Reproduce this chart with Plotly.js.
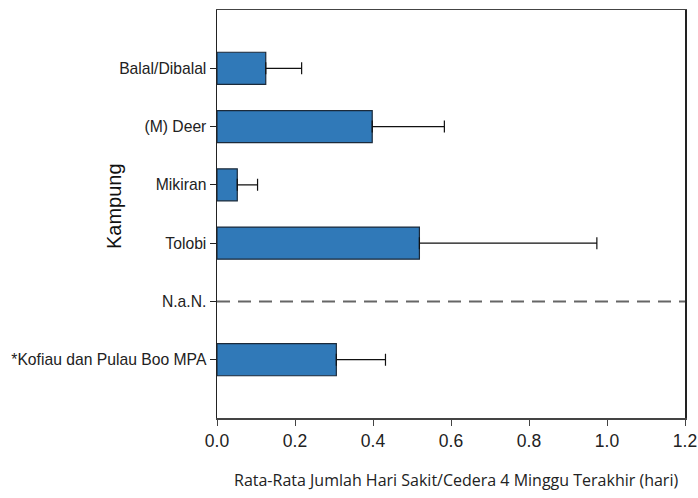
<!DOCTYPE html>
<html>
<head>
<meta charset="utf-8">
<script src="https://cdn.plot.ly/plotly-3.0.1.min.js"></script>
<style>html,body{margin:0;padding:0;background:#fff;}#chart{width:698px;height:498px;}</style>
</head>
<body>
<div id="chart"></div>
<script>
// Data
const categories = ["Balal/Dibalal", "(M) Deer", "Mikiran", "Tolobi", "N.a.N.", "*Kofiau dan Pulau Boo MPA"];
const barCategories = ["Balal/Dibalal", "(M) Deer", "Mikiran", "Tolobi", "*Kofiau dan Pulau Boo MPA"];
const meanDays = [0.125, 0.398, 0.052, 0.519, 0.306];
const errorPlus = [0.092, 0.185, 0.052, 0.455, 0.126];
const errorMinus = [0, 0, 0, 0, 0];
const nanCategory = "N.a.N.";
const nanLineX = [0, 1.2];
const xTickVals = [0, 0.2, 0.4, 0.6, 0.8, 1.0, 1.2];
const xTickText = ["0.0", "0.2", "0.4", "0.6", "0.8", "1.0", "1.2"];
const xTitle = "Rata-Rata Jumlah Hari Sakit/Cedera 4 Minggu Terakhir (hari)";
const yTitle = "Kampung";

const bars = {
  type: "bar",
  orientation: "h",
  y: barCategories,
  x: meanDays,
  marker: {color: "#3079b8", line: {color: "#1b2a3a", width: 1.2}},
  error_x: {type: "data", symmetric: false, array: errorPlus, arrayminus: errorMinus,
            color: "#111", thickness: 1.2, width: 6},
  hoverinfo: "x+y",
  showlegend: false
};
const nanLine = {
  type: "scatter",
  mode: "lines",
  x: nanLineX,
  y: [nanCategory, nanCategory],
  line: {color: "#666", width: 2, dash: "13px,8px"},
  hoverinfo: "skip",
  showlegend: false,
  cliponaxis: false
};

const layout = {
  width: 698, height: 498,
  margin: {l: 217, r: 13, t: 10, b: 80},
  paper_bgcolor: "#fff", plot_bgcolor: "#fff",
  bargap: 0.45,
  font: {family: "Liberation Sans, Arial, sans-serif", color: "#222"},
  xaxis: {
    range: [0, 1.2], tickvals: xTickVals, ticktext: xTickText,
    ticks: "outside", ticklen: 6, tickcolor: "#444", tickwidth: 1,
    showline: true, linecolor: "#444", linewidth: 1.5, mirror: true,
    showgrid: false, zeroline: false, ticklabeloverflow: "allow",
    tickfont: {size: 17.5, color: "#222"}
  },
  yaxis: {
    type: "category", categoryorder: "array", categoryarray: categories,
    range: [6, -1],
    ticks: "outside", ticklen: 6, tickcolor: "#222", tickwidth: 1,
    showline: true, linecolor: "#222", linewidth: 1.5, mirror: true,
    showgrid: false, zeroline: false,
    tickfont: {size: 15.7, color: "#222"}
  },
  annotations: [
    {text: yTitle, xref: "paper", yref: "paper", x: (114 - 217) / 468, y: (418 - 206) / 408,
     xanchor: "center", yanchor: "middle", textangle: -90, showarrow: false,
     font: {size: 20, family: "Liberation Sans, Arial, sans-serif", color: "#111"}},
    {text: xTitle, xref: "paper", yref: "paper", x: (456 - 217) / 468, y: (418 - 480) / 408,
     xanchor: "center", yanchor: "middle", showarrow: false,
     font: {size: 16, family: "Open Sans, sans-serif", color: "#222"}}
  ]
};

Plotly.newPlot("chart", [bars, nanLine], layout, {displayModeBar: false, staticPlot: true});
</script>
</body>
</html>
